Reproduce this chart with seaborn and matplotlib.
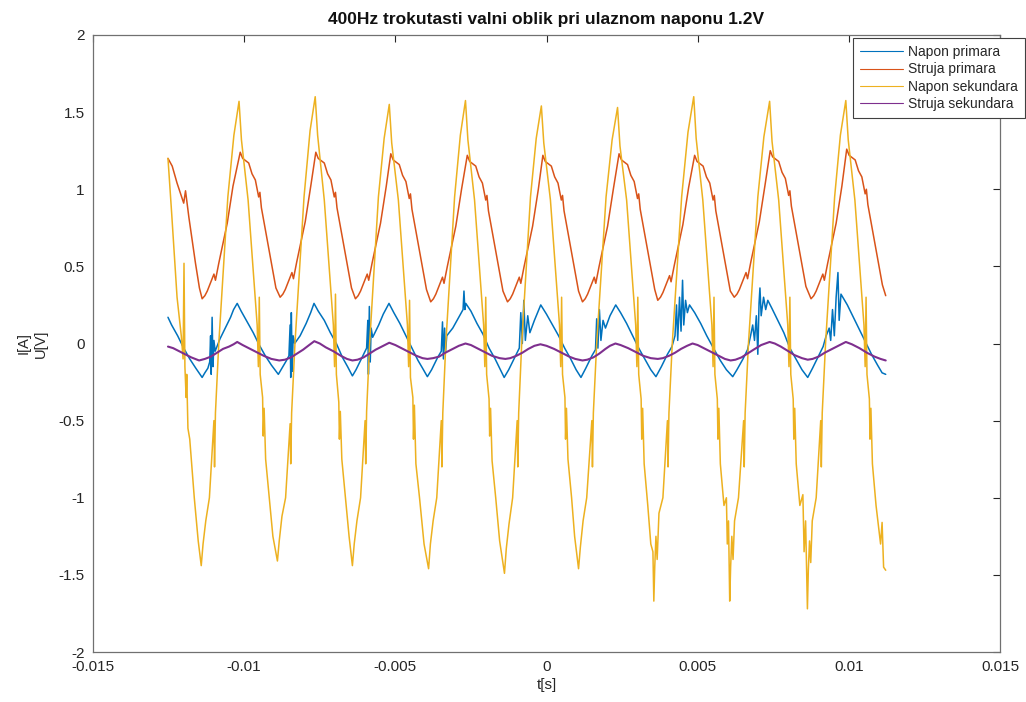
import numpy as np
import pandas as pd
import matplotlib
matplotlib.use("Agg")
import matplotlib.pyplot as plt
from matplotlib.ticker import FixedLocator, FuncFormatter
import seaborn as sns

# ---------------- data (time in ms, value in V / A) ----------------
napon_primara = [
    (-12.52, 0.17), (-12.40, 0.12), (-12.20, 0.05), (-12.00, -0.03), (-11.80, -0.10), (-11.60, -0.16),
    (-11.39, -0.22), (-11.30, -0.19), (-11.20, -0.16), (-11.14, -0.12), (-11.11, 0.05), (-11.09, -0.20),
    (-11.06, 0.17), (-11.03, -0.15), (-11.00, 0.02), (-10.96, -0.05), (-10.80, 0.03), (-10.60, 0.11),
    (-10.45, 0.17), (-10.35, 0.22), (-10.23, 0.26),
    (-10.10, 0.21), (-9.90, 0.14), (-9.70, 0.07), (-9.50, -0.01), (-9.30, -0.08), (-9.10, -0.14), (-8.87, -0.20),
    (-8.75, -0.16), (-8.60, -0.11), (-8.52, -0.08), (-8.48, 0.12), (-8.46, -0.22), (-8.44, 0.20), (-8.41, -0.18),
    (-8.38, 0.05), (-8.33, 0.00), (-8.15, 0.05), (-7.95, 0.13), (-7.80, 0.20), (-7.69, 0.26),
    (-7.55, 0.21), (-7.35, 0.15), (-7.15, 0.07), (-6.95, 0.00), (-6.75, -0.09), (-6.58, -0.15), (-6.42, -0.21),
    (-6.30, -0.17), (-6.10, -0.09), (-5.95, -0.03), (-5.91, 0.15), (-5.89, -0.20), (-5.86, 0.24), (-5.83, -0.12),
    (-5.80, 0.10), (-5.75, 0.04), (-5.55, 0.12), (-5.40, 0.19), (-5.21, 0.26),
    (-5.05, 0.20), (-4.85, 0.13), (-4.65, 0.05), (-4.45, -0.03), (-4.25, -0.11), (-4.10, -0.16), (-3.94, -0.215),
    (-3.80, -0.17), (-3.60, -0.09), (-3.48, -0.05), (-3.44, 0.14), (-3.41, -0.10), (-3.37, 0.10), (-3.34, -0.06),
    (-3.30, 0.05), (-3.10, 0.10), (-2.90, 0.17), (-2.76, 0.22), (-2.73, 0.34), (-2.70, 0.22), (-2.67, 0.26),
    (-2.50, 0.21), (-2.30, 0.13), (-2.10, 0.06), (-1.90, -0.03), (-1.70, -0.10), (-1.55, -0.16), (-1.40, -0.22),
    (-1.25, -0.17), (-1.05, -0.09), (-0.90, -0.03), (-0.85, 0.20), (-0.80, 0.00), (-0.75, 0.28), (-0.70, 0.02),
    (-0.62, 0.18), (-0.55, 0.07), (-0.40, 0.15), (-0.19, 0.25),
    (0.00, 0.19), (0.20, 0.12), (0.40, 0.05), (0.60, -0.03), (0.80, -0.10), (0.98, -0.17), (1.14, -0.22),
    (1.30, -0.16), (1.50, -0.08), (1.62, -0.04), (1.66, 0.16), (1.70, -0.03), (1.75, 0.22), (1.80, 0.02),
    (1.87, 0.15), (1.95, 0.10), (2.10, 0.18), (2.29, 0.25),
    (2.45, 0.20), (2.65, 0.13), (2.85, 0.05), (3.05, -0.03), (3.25, -0.10), (3.45, -0.17), (3.62, -0.215),
    (3.80, -0.15), (4.00, -0.07), (4.15, -0.02), (4.25, 0.05), (4.30, 0.25), (4.34, 0.02), (4.40, 0.30),
    (4.45, 0.08), (4.50, 0.41), (4.54, 0.12), (4.60, 0.28), (4.66, 0.20), (4.73, 0.25),
    (4.90, 0.20), (5.10, 0.13), (5.30, 0.05), (5.55, -0.04), (5.75, -0.11), (5.95, -0.17), (6.16, -0.215),
    (6.30, -0.17), (6.50, -0.10), (6.65, -0.04), (6.75, 0.05), (6.82, 0.12), (6.88, 0.02), (6.94, 0.18),
    (6.99, -0.07), (7.03, 0.26), (7.06, 0.36), (7.10, 0.18), (7.18, 0.30), (7.25, 0.22), (7.32, 0.28),
    (7.45, 0.23), (7.65, 0.15), (7.85, 0.07), (8.05, -0.03), (8.25, -0.10), (8.45, -0.17), (8.64, -0.22),
    (8.80, -0.16), (9.00, -0.08), (9.15, -0.02), (9.25, 0.05), (9.35, 0.10), (9.40, 0.02), (9.46, 0.22),
    (9.52, 0.05), (9.58, 0.30), (9.64, 0.46), (9.68, 0.15), (9.74, 0.32), (9.80, 0.30),
    (9.95, 0.25), (10.15, 0.17), (10.35, 0.09), (10.55, 0.01), (10.75, -0.07), (10.95, -0.14), (11.10, -0.19),
    (11.22, -0.20),
]

struja_primara = [
    (-12.52, 1.20), (-12.38, 1.15), (-12.22, 1.04), (-12.00, 0.91), (-11.94, 0.99), (-11.83, 0.82),
    (-11.61, 0.52), (-11.48, 0.36), (-11.39, 0.29),
    (-11.30, 0.31), (-11.22, 0.34), (-11.10, 0.40), (-11.00, 0.45), (-10.95, 0.41), (-10.84, 0.52),
    (-10.56, 0.78), (-10.37, 1.02), (-10.13, 1.24),
    (-10.05, 1.20), (-9.85, 1.17), (-9.74, 1.10), (-9.63, 1.06), (-9.52, 0.95), (-9.48, 0.98), (-9.43, 0.88),
    (-9.30, 0.74), (-9.08, 0.50), (-8.95, 0.36), (-8.81, 0.30),
    (-8.72, 0.32), (-8.64, 0.35), (-8.52, 0.41), (-8.42, 0.46), (-8.37, 0.42), (-8.26, 0.53),
    (-7.98, 0.79), (-7.79, 1.03), (-7.63, 1.24),
    (-7.55, 1.20), (-7.35, 1.17), (-7.24, 1.10), (-7.13, 1.06), (-7.02, 0.95), (-6.98, 0.98), (-6.93, 0.88),
    (-6.80, 0.74), (-6.58, 0.50), (-6.45, 0.36), (-6.32, 0.29),
    (-6.23, 0.31), (-6.15, 0.34), (-6.03, 0.40), (-5.93, 0.45), (-5.88, 0.41), (-5.77, 0.52),
    (-5.49, 0.78), (-5.30, 1.02), (-5.15, 1.23),
    (-5.07, 1.19), (-4.87, 1.16), (-4.76, 1.09), (-4.65, 1.05), (-4.54, 0.94), (-4.50, 0.97), (-4.45, 0.87),
    (-4.32, 0.73), (-4.10, 0.49), (-3.97, 0.35), (-3.83, 0.27),
    (-3.74, 0.29), (-3.66, 0.32), (-3.54, 0.38), (-3.44, 0.43), (-3.39, 0.39), (-3.28, 0.50),
    (-3.00, 0.76), (-2.81, 1.00), (-2.62, 1.22),
    (-2.54, 1.18), (-2.34, 1.15), (-2.23, 1.08), (-2.12, 1.04), (-2.01, 0.93), (-1.97, 0.96), (-1.92, 0.86),
    (-1.79, 0.72), (-1.57, 0.48), (-1.44, 0.34), (-1.29, 0.27),
    (-1.20, 0.29), (-1.12, 0.32), (-1.00, 0.38), (-0.90, 0.43), (-0.85, 0.39), (-0.74, 0.50),
    (-0.46, 0.76), (-0.27, 1.00), (-0.12, 1.22),
    (-0.04, 1.18), (0.16, 1.15), (0.27, 1.08), (0.38, 1.04), (0.49, 0.93), (0.53, 0.96), (0.58, 0.86),
    (0.71, 0.72), (0.93, 0.48), (1.06, 0.34), (1.19, 0.27),
    (1.28, 0.29), (1.36, 0.32), (1.48, 0.38), (1.58, 0.43), (1.63, 0.39), (1.74, 0.50),
    (2.02, 0.76), (2.21, 1.00), (2.40, 1.23),
    (2.48, 1.19), (2.68, 1.16), (2.79, 1.09), (2.90, 1.05), (3.01, 0.94), (3.05, 0.97), (3.10, 0.87),
    (3.23, 0.73), (3.45, 0.49), (3.58, 0.35), (3.68, 0.28),
    (3.77, 0.30), (3.85, 0.33), (3.97, 0.39), (4.07, 0.44), (4.12, 0.40), (4.23, 0.51),
    (4.51, 0.77), (4.70, 1.01), (4.90, 1.22),
    (4.98, 1.18), (5.18, 1.15), (5.29, 1.08), (5.40, 1.04), (5.51, 0.93), (5.55, 0.96), (5.60, 0.86),
    (5.73, 0.72), (5.95, 0.48), (6.08, 0.34), (6.21, 0.30),
    (6.30, 0.32), (6.38, 0.35), (6.50, 0.41), (6.60, 0.46), (6.65, 0.42), (6.76, 0.53),
    (7.04, 0.79), (7.23, 1.03), (7.40, 1.25),
    (7.48, 1.21), (7.68, 1.18), (7.79, 1.11), (7.90, 1.07), (8.01, 0.96), (8.05, 0.99), (8.10, 0.89),
    (8.23, 0.75), (8.45, 0.51), (8.58, 0.37), (8.75, 0.29),
    (8.84, 0.31), (8.92, 0.34), (9.04, 0.40), (9.14, 0.45), (9.19, 0.41), (9.30, 0.52),
    (9.58, 0.78), (9.77, 1.02), (9.93, 1.26),
    (10.01, 1.22), (10.21, 1.19), (10.32, 1.12), (10.43, 1.08), (10.54, 0.97), (10.58, 1.00), (10.63, 0.90),
    (10.76, 0.76), (10.98, 0.52), (11.11, 0.38), (11.22, 0.31),
]

napon_sekundara = [
    (-12.52, 1.20), (-12.40, 0.85), (-12.22, 0.30), (-12.08, 0.05), (-12.02, -0.10), (-11.99, 0.52),
    (-11.96, -0.15), (-11.92, -0.35), (-11.90, -0.20), (-11.86, -0.55), (-11.80, -0.62), (-11.65, -1.00),
    (-11.52, -1.28), (-11.42, -1.44),
    (-11.36, -1.30), (-11.27, -1.15), (-11.15, -1.00), (-11.00, -0.50), (-10.98, -0.80), (-10.95, -0.45),
    (-10.84, 0.00), (-10.54, 0.95), (-10.34, 1.35), (-10.17, 1.57),
    (-10.09, 1.32), (-9.87, 0.93), (-9.57, 0.12), (-9.53, -0.15), (-9.50, 0.30), (-9.47, -0.20),
    (-9.39, -0.35), (-9.37, -0.60), (-9.34, -0.42), (-9.29, -0.75), (-9.17, -1.00), (-9.05, -1.25), (-8.90, -1.41),
    (-8.84, -1.28), (-8.75, -1.12), (-8.63, -1.00), (-8.48, -0.52), (-8.46, -0.78), (-8.43, -0.45),
    (-8.32, 0.00), (-8.02, 0.95), (-7.82, 1.38), (-7.65, 1.60),
    (-7.57, 1.35), (-7.35, 0.93), (-7.05, 0.12), (-7.01, -0.15), (-6.98, 0.32), (-6.95, -0.20),
    (-6.87, -0.38), (-6.85, -0.62), (-6.82, -0.44), (-6.77, -0.75), (-6.65, -1.00), (-6.53, -1.25), (-6.42, -1.44),
    (-6.36, -1.30), (-6.27, -1.15), (-6.15, -1.00), (-6.00, -0.50), (-5.98, -0.78), (-5.95, -0.44),
    (-5.85, 0.00), (-5.56, 0.95), (-5.37, 1.33), (-5.20, 1.55),
    (-5.12, 1.30), (-4.90, 0.93), (-4.60, 0.12), (-4.56, -0.15), (-4.53, 0.28), (-4.50, -0.22),
    (-4.42, -0.35), (-4.40, -0.62), (-4.37, -0.40), (-4.32, -0.78), (-4.20, -1.00), (-4.05, -1.30), (-3.90, -1.46),
    (-3.84, -1.30), (-3.75, -1.15), (-3.63, -1.00), (-3.48, -0.50), (-3.46, -0.80), (-3.43, -0.45),
    (-3.33, 0.00), (-3.04, 0.95), (-2.85, 1.35), (-2.68, 1.575),
    (-2.60, 1.32), (-2.38, 0.93), (-2.08, 0.12), (-2.04, -0.15), (-2.01, 0.30), (-1.98, -0.20),
    (-1.90, -0.36), (-1.88, -0.60), (-1.85, -0.42), (-1.80, -0.76), (-1.68, -1.00), (-1.55, -1.28), (-1.39, -1.49),
    (-1.33, -1.33), (-1.24, -1.17), (-1.12, -1.00), (-0.97, -0.50), (-0.95, -0.80), (-0.92, -0.45),
    (-0.82, 0.00), (-0.53, 0.95), (-0.34, 1.33), (-0.17, 1.54),
    (-0.09, 1.30), (0.13, 0.93), (0.43, 0.12), (0.47, -0.15), (0.50, 0.30), (0.53, -0.20),
    (0.61, -0.35), (0.63, -0.62), (0.66, -0.42), (0.71, -0.75), (0.83, -1.00), (0.93, -1.25), (1.06, -1.46),
    (1.12, -1.32), (1.21, -1.15), (1.33, -1.00), (1.50, -0.50), (1.52, -0.80), (1.55, -0.45),
    (1.66, 0.00), (1.97, 0.95), (2.17, 1.32), (2.35, 1.53),
    (2.43, 1.28), (2.65, 0.93), (2.95, 0.12), (2.99, -0.15), (3.02, 0.30), (3.05, -0.20),
    (3.13, -0.36), (3.15, -0.62), (3.18, -0.42), (3.23, -0.78), (3.35, -1.05), (3.45, -1.30),
    (3.52, -1.35), (3.55, -1.67), (3.58, -1.45),
    (3.62, -1.25), (3.66, -1.40), (3.72, -1.10), (3.85, -1.00), (4.00, -0.50), (4.02, -0.80), (4.05, -0.45),
    (4.16, 0.00), (4.47, 0.95), (4.68, 1.37), (4.87, 1.60),
    (4.95, 1.33), (5.17, 0.93), (5.47, 0.12), (5.51, -0.15), (5.54, 0.30), (5.57, -0.20),
    (5.65, -0.36), (5.67, -0.62), (5.70, -0.42), (5.75, -0.78), (5.87, -1.05), (5.95, -1.00), (5.98, -1.30),
    (6.02, -1.15), (6.06, -1.67), (6.09, -1.45),
    (6.13, -1.25), (6.17, -1.40), (6.22, -1.15), (6.35, -1.00), (6.52, -0.50), (6.54, -0.80), (6.57, -0.45),
    (6.68, 0.00), (6.99, 0.95), (7.19, 1.34), (7.38, 1.57),
    (7.46, 1.31), (7.68, 0.93), (7.98, 0.12), (8.02, -0.15), (8.05, 0.30), (8.08, -0.20),
    (8.16, -0.36), (8.18, -0.62), (8.21, -0.42), (8.26, -0.78), (8.38, -1.05), (8.48, -0.98), (8.52, -1.35),
    (8.57, -1.15), (8.63, -1.72), (8.66, -1.47),
    (8.70, -1.28), (8.74, -1.42), (8.79, -1.15), (8.92, -1.00), (9.07, -0.50), (9.09, -0.80), (9.12, -0.45),
    (9.23, 0.00), (9.53, 0.95), (9.72, 1.35), (9.90, 1.575),
    (9.98, 1.32), (10.20, 0.93), (10.50, 0.12), (10.54, -0.15), (10.57, 0.30), (10.60, -0.20),
    (10.68, -0.36), (10.70, -0.62), (10.73, -0.42), (10.78, -0.78), (10.90, -1.05), (11.05, -1.30),
    (11.10, -1.16), (11.15, -1.45), (11.22, -1.47),
]

struja_sekundara = [
    (-12.52, -0.02), (-12.35, -0.03), (-12.15, -0.05), (-11.95, -0.07), (-11.75, -0.09), (-11.49, -0.11),
    (-11.30, -0.10), (-11.10, -0.085), (-10.90, -0.06), (-10.70, -0.035), (-10.50, -0.02), (-10.35, -0.005),
    (-10.23, 0.01),
    (-10.05, -0.01), (-9.85, -0.03), (-9.60, -0.055), (-9.35, -0.08), (-9.10, -0.10), (-8.84, -0.11),
    (-8.65, -0.105), (-8.45, -0.09), (-8.25, -0.065), (-8.05, -0.04), (-7.85, -0.01), (-7.68, 0.015),
    (-7.50, 0.00), (-7.30, -0.025), (-7.05, -0.05), (-6.80, -0.08), (-6.60, -0.10), (-6.42, -0.11),
    (-6.25, -0.105), (-6.05, -0.09), (-5.85, -0.065), (-5.65, -0.04), (-5.40, -0.015), (-5.20, 0.005),
    (-5.00, -0.01), (-4.80, -0.03), (-4.55, -0.055), (-4.30, -0.08), (-4.10, -0.095), (-3.94, -0.10),
    (-3.75, -0.095), (-3.55, -0.085), (-3.35, -0.06), (-3.10, -0.035), (-2.90, -0.015), (-2.68, 0.00),
    (-2.50, -0.01), (-2.30, -0.03), (-2.05, -0.055), (-1.80, -0.08), (-1.55, -0.095), (-1.36, -0.10),
    (-1.20, -0.095), (-1.00, -0.08), (-0.80, -0.06), (-0.60, -0.035), (-0.40, -0.015), (-0.20, -0.005),
    (0.00, -0.015), (0.25, -0.035), (0.50, -0.06), (0.75, -0.085), (0.95, -0.10), (1.19, -0.11),
    (1.35, -0.105), (1.55, -0.09), (1.75, -0.065), (1.95, -0.035), (2.10, -0.015), (2.28, 0.00),
    (2.45, -0.01), (2.70, -0.03), (2.95, -0.055), (3.20, -0.08), (3.45, -0.095), (3.68, -0.10),
    (3.85, -0.095), (4.05, -0.08), (4.25, -0.06), (4.45, -0.035), (4.65, -0.015), (4.83, 0.00),
    (5.00, -0.01), (5.20, -0.03), (5.45, -0.055), (5.70, -0.08), (5.90, -0.10), (6.09, -0.11),
    (6.25, -0.105), (6.45, -0.09), (6.65, -0.065), (6.85, -0.04), (7.10, -0.01), (7.38, 0.01),
    (7.55, 0.00), (7.75, -0.02), (8.00, -0.05), (8.20, -0.075), (8.45, -0.095), (8.64, -0.105),
    (8.80, -0.10), (9.00, -0.085), (9.20, -0.06), (9.45, -0.035), (9.70, -0.01), (9.90, 0.01),
    (10.10, -0.005), (10.35, -0.03), (10.60, -0.06), (10.85, -0.085), (11.05, -0.10), (11.22, -0.11),
]

series_names = ["Napon primara", "Struja primara", "Napon sekundara", "Struja sekundara"]
series_data = [napon_primara, struja_primara, napon_sekundara, struja_sekundara]
series_colors = ["#0072BD", "#D95319", "#EDB120", "#7E2F8E"]
series_widths = [1.1, 1.1, 1.1, 1.5]

x_ticks = [-0.015, -0.01, -0.005, 0, 0.005, 0.01, 0.015]
y_ticks = [-2, -1.5, -1, -0.5, 0, 0.5, 1, 1.5, 2]
title_text = "400Hz trokutasti valni oblik pri ulaznom naponu 1.2V"

# ---------------- plotting ----------------
sns.set_style("white")
plt.rcParams["font.family"] = ["Liberation Sans", "DejaVu Sans"]
plt.rcParams["axes.unicode_minus"] = False

fig = plt.figure(figsize=(10.26, 7.02), dpi=100)
ax = fig.add_axes([93 / 1026, 1 - 652 / 702, 907 / 1026, 617 / 702])

for name, data, col, lw in zip(series_names, series_data, series_colors, series_widths):
    df = pd.DataFrame(data, columns=["t_ms", "v"])
    df["t"] = df["t_ms"] / 1000.0
    sns.lineplot(data=df, x="t", y="v", ax=ax, color=col, linewidth=lw,
                 sort=False, estimator=None, label=name)

ax.set_xlim(-0.015, 0.015)
ax.set_ylim(-2, 2)
ax.xaxis.set_major_locator(FixedLocator(x_ticks))
ax.yaxis.set_major_locator(FixedLocator(y_ticks))
fmt = FuncFormatter(lambda v, p: "0" if abs(v) < 1e-12 else f"{v:g}")
ax.xaxis.set_major_formatter(fmt)
ax.yaxis.set_major_formatter(fmt)
ax.tick_params(direction="in", top=True, right=True, length=5, width=0.8,
               labelsize=11, colors="#262626", pad=6)
for s in ax.spines.values():
    s.set_color("#707070")
    s.set_linewidth(0.9)

ax.set_title(title_text, fontsize=12.5, fontweight="bold", color="#111111", pad=8)
ax.set_xlabel("t[s]", fontsize=11, color="#262626", labelpad=3)
ax.set_ylabel("I[A]\nU[V]", fontsize=10.5, color="#262626", linespacing=1.3)
ax.yaxis.set_label_coords(-(93 - 48) / 907, 0.5)

leg = ax.legend(loc="upper right", bbox_to_anchor=(1025 / 1026, 1 - 38 / 702),
                bbox_transform=fig.transFigure, fontsize=10, frameon=True,
                fancybox=False, framealpha=1, edgecolor="#404040",
                handlelength=3.1, handletextpad=0.4, labelspacing=0.25,
                borderpad=0.5, borderaxespad=0)
leg.get_frame().set_linewidth(0.8)
for line in leg.get_lines():
    line.set_linewidth(0.8)

fig.savefig("out.png", dpi=100, facecolor="white")
